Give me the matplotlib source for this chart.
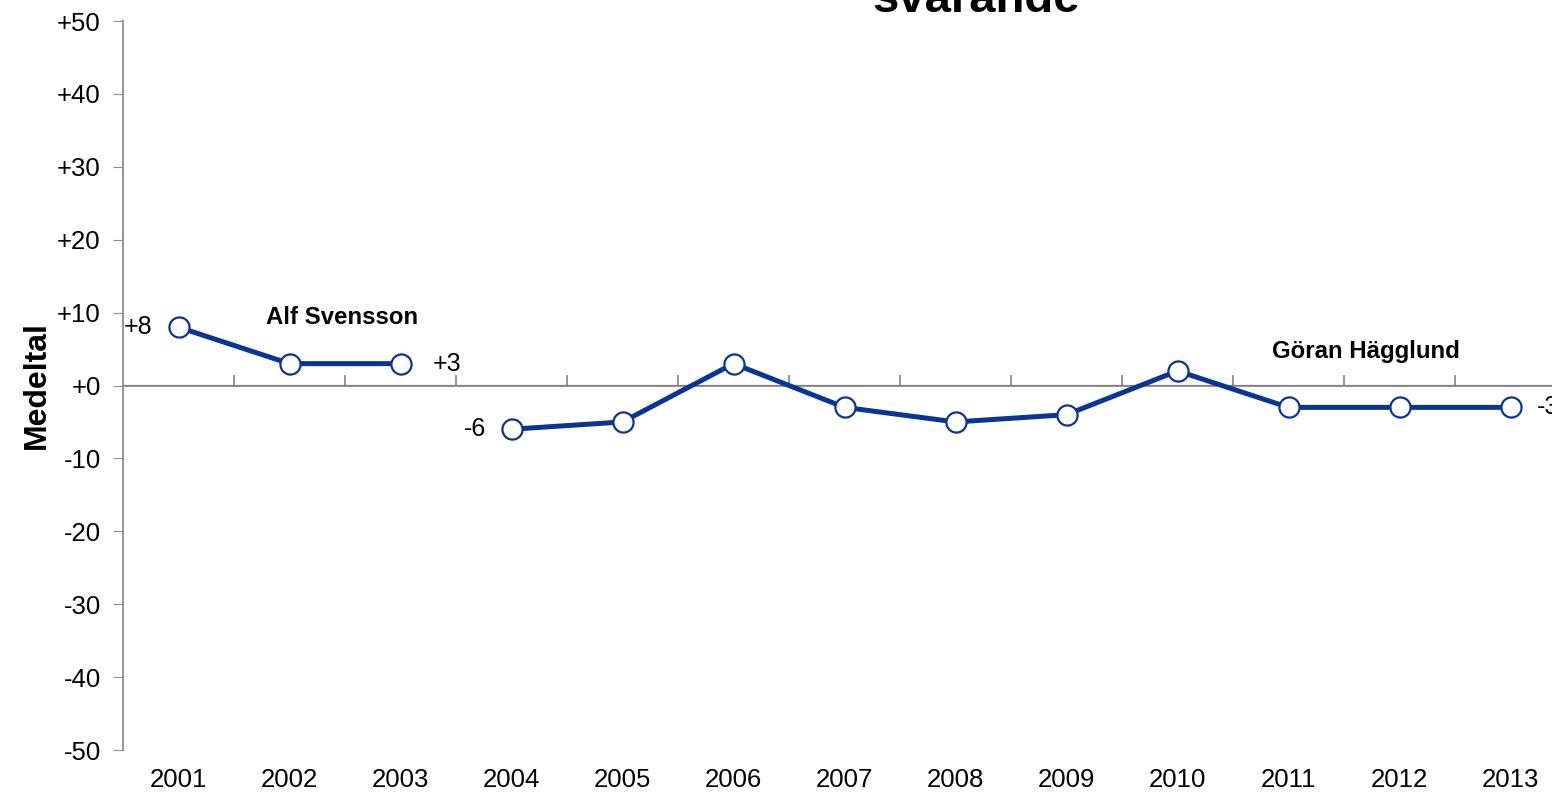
import matplotlib
matplotlib.use("Agg")
import matplotlib.pyplot as plt
import numpy as np

years = ["2001", "2002", "2003", "2004", "2005", "2006", "2007",
         "2008", "2009", "2010", "2011", "2012", "2013"]
seg1_values = [8, 3, 3]            # Alf Svensson, 2001-2003
seg2_values = [-6, -5, 3, -3, -5, -4, 2, -3, -3, -3]  # Göran Hägglund, 2004-2013
yticks = [-50, -40, -30, -20, -10, 0, 10, 20, 30, 40, 50]
ytick_labels = ["-50", "-40", "-30", "-20", "-10", "+0", "+10", "+20", "+30", "+40", "+50"]

plt.rcParams['font.family'] = ['Liberation Sans', 'DejaVu Sans']

W, H = 1552, 793
fig = plt.figure(figsize=(W / 100, H / 100), dpi=100)
left, right, top, bottom = 123, 1566, 21, 750
ax = fig.add_axes([left / W, 1 - bottom / H, (right - left) / W, (bottom - top) / H])

blue = "#0b3593"
gray = "#8c8c8c"

x1 = np.arange(0, 3)
x2 = np.arange(3, 13)
for xs, ys in [(x1, seg1_values), (x2, seg2_values)]:
    ax.plot(xs, ys, color=blue, lw=3.6, marker="o", ms=14.5,
            mfc="white", mec=blue, mew=1.6, zorder=3, clip_on=False)

ax.set_xlim(-0.5, 12.5)
ax.set_ylim(-50, 50)
ax.set_yticks(yticks)
ax.set_yticklabels(ytick_labels, fontsize=18.5)
ax.set_xticks(range(len(years)))
ax.set_xticklabels(years, fontsize=18.5)
ax.tick_params(axis="x", length=0, pad=13)
ax.tick_params(axis="y", length=7, color=gray, direction="out", pad=9)

for s in ["top", "right", "bottom"]:
    ax.spines[s].set_visible(False)
ax.spines["left"].set_color(gray)
ax.spines["left"].set_linewidth(1.3)

# zero line with category boundary ticks
ax.axhline(0, color=gray, lw=1.3, zorder=1, clip_on=False)
sec = ax.secondary_xaxis(0.5)
sec.set_xticks(np.arange(0.5, 12.5, 1.0))
sec.set_xticklabels([])
sec.tick_params(length=7, color=gray, direction="out", width=1.3)
sec.spines["bottom"].set_visible(False)

ax.set_ylabel("Medeltal", fontsize=23, fontweight="bold", labelpad=4)

# data labels
ax.annotate("+8", (0, seg1_values[0]), xytext=(-18.5, 0), textcoords="offset points",
            ha="right", va="center", fontsize=18)
ax.annotate("+3", (2, seg1_values[-1]), xytext=(23, 0), textcoords="offset points",
            ha="left", va="center", fontsize=18)
ax.annotate("-6", (3, seg2_values[0]), xytext=(-18, 0), textcoords="offset points",
            ha="right", va="center", fontsize=18)
ax.annotate("-3", (12, seg2_values[-1]), xytext=(19, 0), textcoords="offset points",
            ha="left", va="center", fontsize=18, annotation_clip=False)

ax.text(1.47, 9.3, "Alf Svensson", ha="center", va="center", fontsize=17.3, fontweight="bold")
ax.text(10.7, 4.6, "Göran Hägglund", ha="center", va="center", fontsize=17.3, fontweight="bold")

fig.text(976 / W, 1 - 12 / H, "svarande", ha="center", va="baseline",
         fontsize=34, fontweight="bold")

fig.savefig("out.png", dpi=100)
